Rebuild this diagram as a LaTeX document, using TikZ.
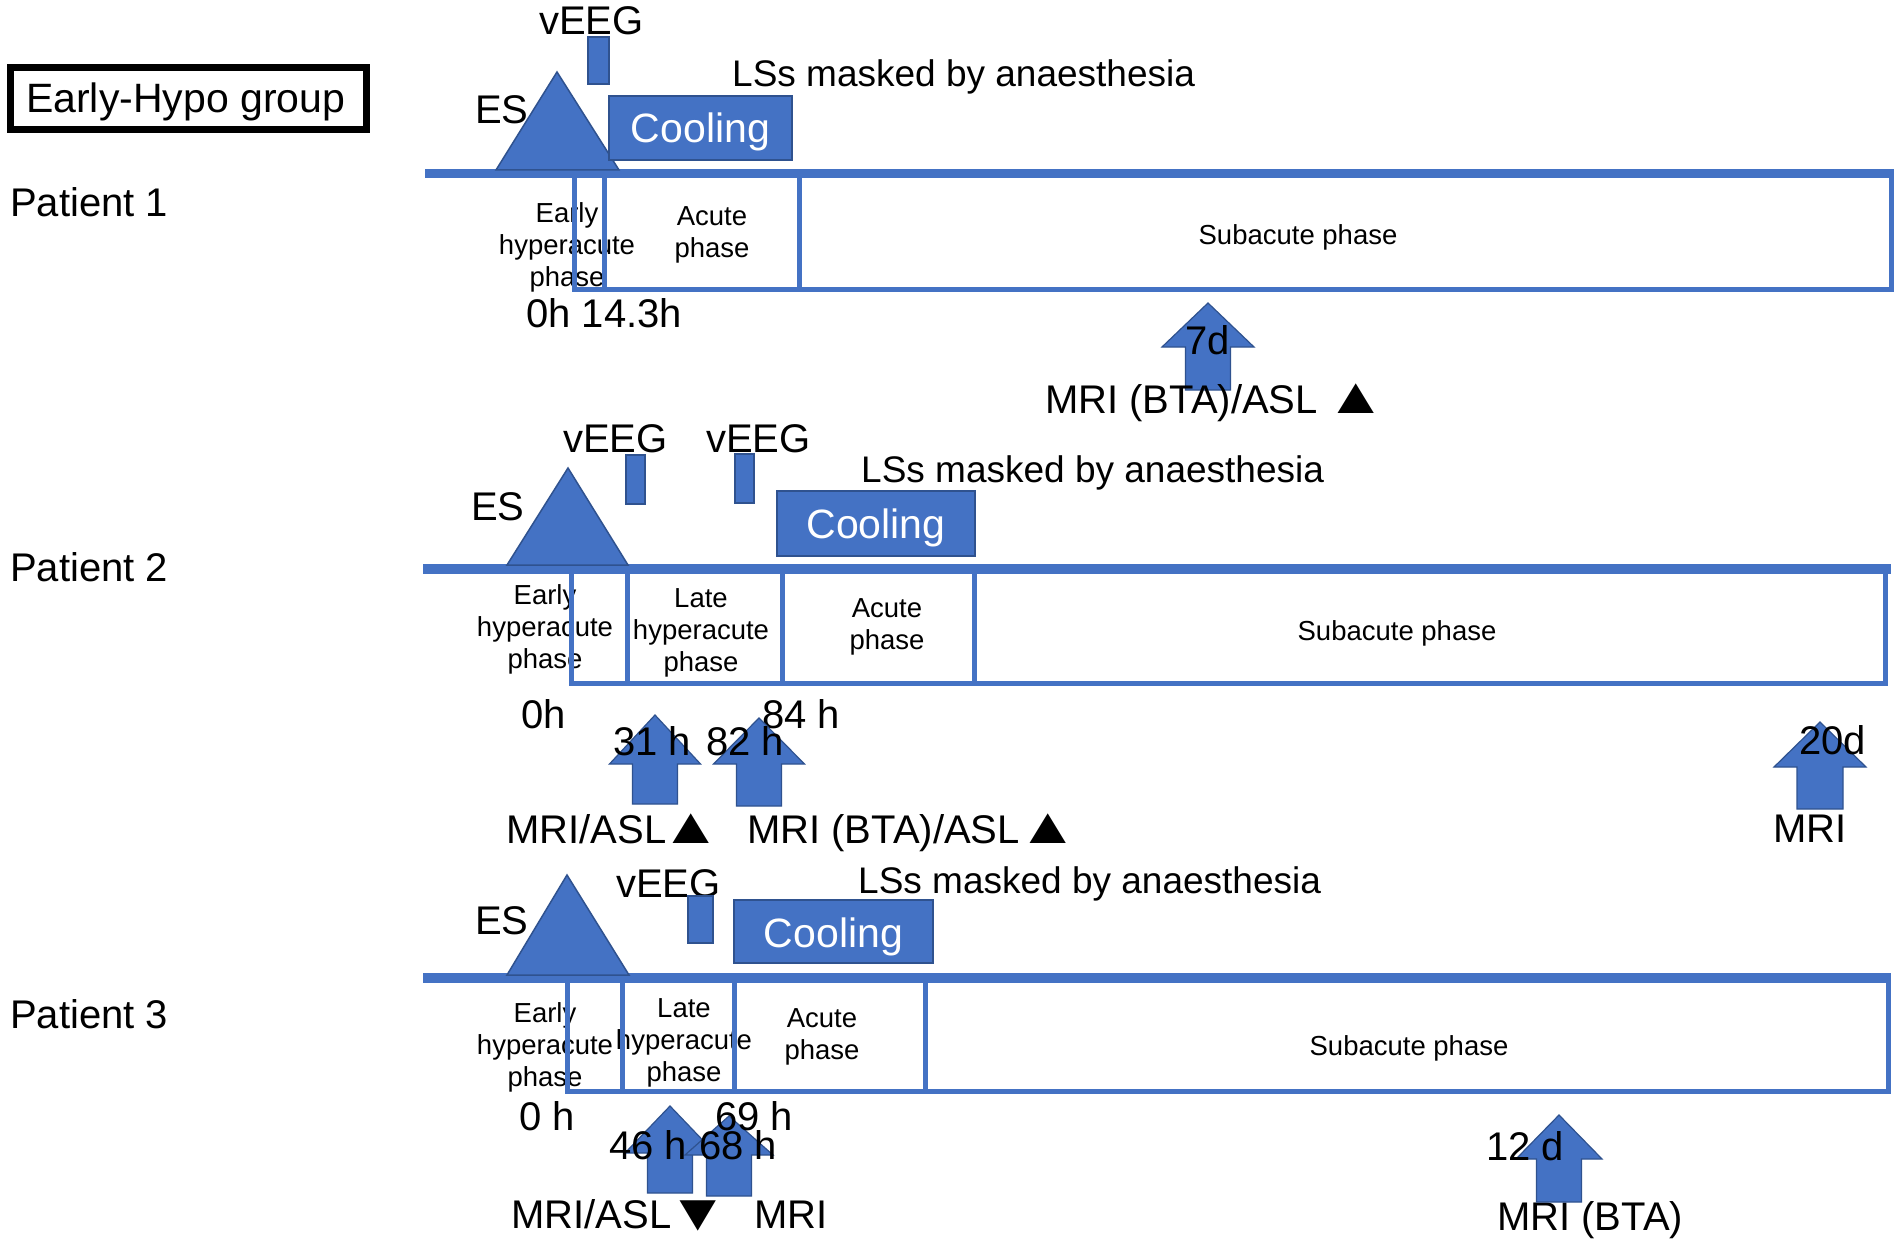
\documentclass[tikz,border=0pt]{standalone}
\usepackage{graphicx}
\usepackage{fontspec}
\setmainfont{Liberation Sans}
\definecolor{blu}{HTML}{4472C4}
\definecolor{dkblu}{HTML}{2F528F}
\newcommand\uptri{\scalebox{1.55}[1.27]{▲}}
\newcommand\dntri{\raisebox{-2pt}{\scalebox{1.55}[1.3]{▼}}}
\newcommand\blkarrow[6]{%
  \filldraw[fill=blu, draw=dkblu, line width=1.2] (#1,#2) -- ({#1+#4},#3) -- ({#1+#5},#3) -- ({#1+#5},#6) -- ({#1-#5},#6) -- ({#1-#5},#3) -- ({#1-#4},#3) -- cycle;}
\begin{document}
\begin{tikzpicture}[x=1pt,y=-1pt,
  lbl/.style={inner sep=0pt, anchor=base west, font=\fontsize{40}{46}\selectfont},
  small/.style={inner sep=0pt, anchor=base west, font=\fontsize{37}{44}\selectfont},
  phase/.style={inner sep=0pt, align=center, font=\fontsize{27.5}{32}\selectfont},
  tl/.style={draw=blu, line width=9.5},
  pbox/.style={draw=blu, line width=5},
  tri/.style={fill=blu, draw=dkblu, line width=1.5},
  vrect/.style={fill=blu, draw=dkblu, line width=1.5},
  coolbox/.style={fill=blu, draw=dkblu, line width=2},
  cooltxt/.style={inner sep=0pt, anchor=base, text=white, font=\fontsize{41}{48}\selectfont}]
\useasboundingbox (0,0) rectangle (1901,1241);
\fill[white] (0,0) rectangle (1901,1241);

% group box
\draw[line width=7] (10.5,67.5) rectangle (366.5,129.5);
\node[inner sep=0pt, anchor=base west, font=\fontsize{41}{48}\selectfont] (grp) at (26,113) {Early-Hypo group};

% patient labels
\node[inner sep=0pt, anchor=base west, font=\fontsize{40}{48}\selectfont] (pat1) at (10,217) {Patient 1};
\node[inner sep=0pt, anchor=base west, font=\fontsize{40}{48}\selectfont] (pat2) at (10,581) {Patient 2};
\node[inner sep=0pt, anchor=base west, font=\fontsize{40}{48}\selectfont] (pat3) at (10,1028) {Patient 3};

%%%%%%%% Patient 1
\draw[tl] (425,173.5) -- (1894,173.5);
\node[phase] (p1e) at (567,247) {Early\\hyperacute\\phase};
\node[phase] (p1a) at (712,235) {Acute\\phase};
\node[phase, anchor=base] (p1s) at (1298,245) {Subacute phase};
\draw[pbox] (574.5,173.5) rectangle (604,289.5);
\draw[pbox] (604,173.5) rectangle (799,289.5);
\draw[pbox] (799,173.5) rectangle (1891,289.5);
\filldraw[tri] (496,170) -- (557,72) -- (619,170) -- cycle;
\node[lbl] (p1es) at (475,124) {ES};
\node[lbl] (p1v) at (539,35) {vEEG};
\filldraw[vrect] (588,37) rectangle (609,84);
\filldraw[coolbox] (609,96) rectangle (792,160);
\node[cooltxt] (p1c) at (700.5,143) {Cooling};
\node[small] (p1l) at (732,87) {LSs masked by anaesthesia};
\node[lbl] (p1t) at (526,327) {0h 14.3h};
\blkarrow{1208}{303}{347}{46}{22.5}{390}
\node[lbl] (p1d) at (1185,355) {7d};
\node[lbl] (p1m) at (1045,413) {MRI (BTA)/ASL \hspace{-3pt}\uptri};

%%%%%%%% Patient 2
\draw[tl] (423,569) -- (1891,569);
\node[phase] (p2e) at (545,629) {Early\\hyperacute\\phase};
\node[phase] (p2l) at (701,633) {Late\\hyperacute\\phase};
\node[phase] (p2a) at (887,627) {Acute\\phase};
\node[phase, anchor=base] (p2s) at (1397,640) {Subacute phase};
\draw[pbox] (571,569) rectangle (627,683);
\draw[pbox] (627,569) rectangle (782.5,683);
\draw[pbox] (782.5,569) rectangle (974,683);
\draw[pbox] (974,569) rectangle (1885,683);
\filldraw[tri] (507,565) -- (568,468) -- (628,565) -- cycle;
\node[lbl] (p2es) at (471,520) {ES};
\node[lbl] (p2v1) at (563,452) {vEEG};
\filldraw[vrect] (626,455) rectangle (645,504);
\node[lbl] (p2v2) at (706,452) {vEEG};
\filldraw[vrect] (735,454) rectangle (754,503);
\filldraw[coolbox] (777,491) rectangle (975,556);
\node[cooltxt] (p2c) at (876,538) {Cooling};
\node[small] (p2lss) at (861,482) {LSs masked by anaesthesia};
\node[lbl] (p2t0) at (521,728) {0h};
\node[lbl] (p2t84) at (762,728) {84 h};
\blkarrow{655}{715}{764}{45.5}{22.5}{804}
\blkarrow{759}{718}{764}{45.5}{22.5}{806}
\node[lbl] (p2t31) at (613,755) {31 h};
\node[lbl] (p2t82) at (706,755) {82 h};
\node[lbl] (p2m1) at (506,843) {MRI/ASL\hspace{-6pt}\uptri};
\node[lbl] (p2m2) at (747,843) {MRI (BTA)/ASL\hspace{-2pt}\uptri};
\blkarrow{1820}{722}{767}{46}{23}{809}
\node[lbl] (p2d) at (1799,754) {20d};
\node[lbl] (p2m3) at (1773,842) {MRI};

%%%%%%%% Patient 3
\draw[tl] (423,978) -- (1891,978);
\node[phase] (p3e) at (545,1047.5) {Early\\hyperacute\\phase};
\node[phase] (p3l) at (684,1042.5) {Late\\hyperacute\\phase};
\node[phase] (p3a) at (822,1037) {Acute\\phase};
\node[phase, anchor=base] (p3s) at (1409,1055) {Subacute phase};
\draw[pbox] (567.5,978) rectangle (622.5,1091);
\draw[pbox] (622.5,978) rectangle (734,1091);
\draw[pbox] (734,978) rectangle (925.5,1091);
\draw[pbox] (925.5,978) rectangle (1888,1091);
\filldraw[tri] (507,975) -- (567,875) -- (629,975) -- cycle;
\node[lbl] (p3es) at (475,934) {ES};
\node[lbl] (p3v) at (616,897) {vEEG};
\filldraw[vrect] (688,896) rectangle (713,943);
\filldraw[coolbox] (734,900) rectangle (933,963);
\node[cooltxt] (p3c) at (833.5,947) {Cooling};
\node[small] (p3lss) at (858,893) {LSs masked by anaesthesia};
\node[lbl] (p3t0) at (519,1130) {0 h};
\blkarrow{670}{1106}{1153}{45}{22.5}{1193}
\blkarrow{729}{1116}{1155}{44}{22.5}{1196}
\node[lbl] (p3t69) at (715,1130) {69 h};
\node[lbl] (p3t46) at (609,1159) {46 h};
\node[lbl] (p3t68) at (699,1159) {68 h};
\node[lbl] (p3m1) at (511,1228) {MRI/ASL\hspace{-4pt}\dntri};
\node[lbl] (p3m2) at (754,1228) {MRI};
\node[lbl] (p3m3) at (1497,1230) {MRI (BTA)};
\blkarrow{1559}{1115}{1159}{43}{22.5}{1202}
\node[lbl] (p3d) at (1486,1160) {12 d};
\end{tikzpicture}
\end{document}
